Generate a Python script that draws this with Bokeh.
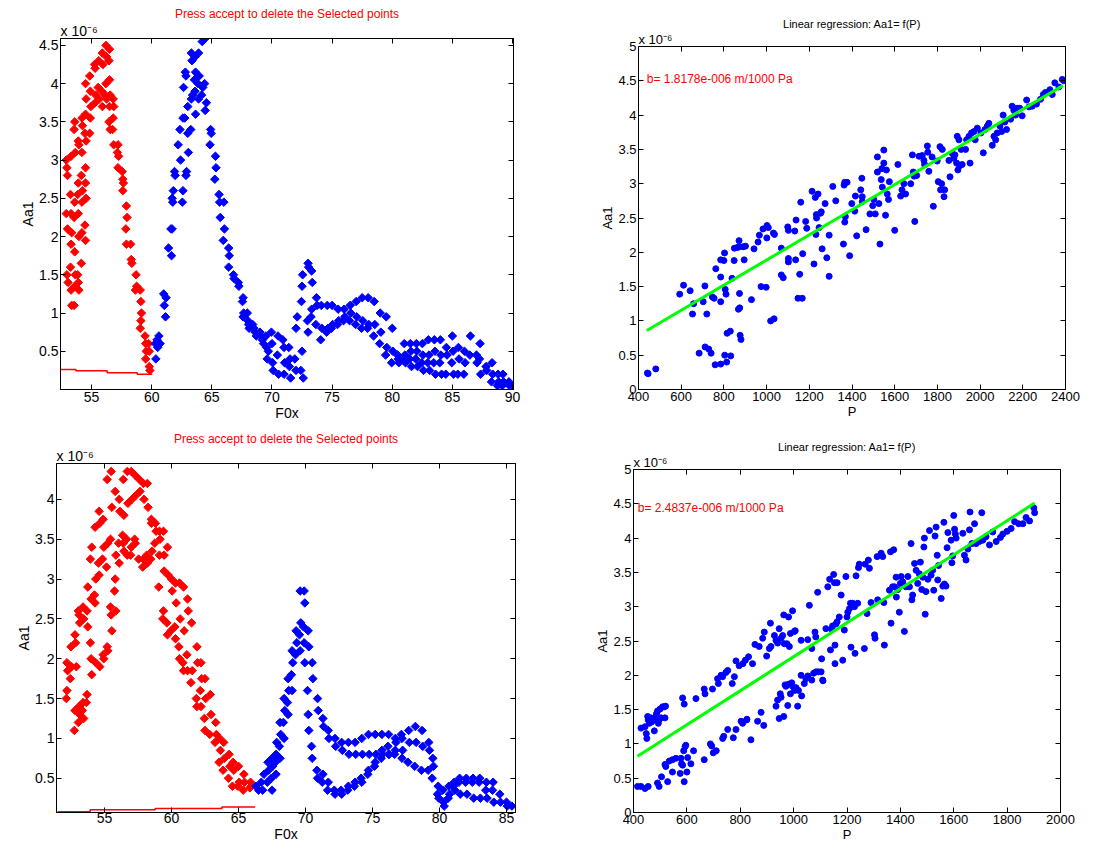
from bokeh.plotting import figure
from bokeh.models import Range1d, FixedTicker, LinearAxis, Label, Title, CustomJSTickFormatter
from bokeh.layouts import column, row
from bokeh.embed import file_html
from bokeh.resources import INLINE

FONT = "Liberation Sans"

# ---------------- data (Aa1 in units of 1e-6) ----------------
tl_red = [
    (52.9,3.0),(52.95,2.9),(53.0,2.8),(52.9,2.3),(53.0,2.1),(52.95,1.5),(53.05,1.4),
    (53.3,3.05),(53.25,2.55),(53.3,2.3),(53.35,2.05),(53.3,1.9),(53.25,1.6),(53.3,1.3),(53.35,1.1),
    (53.6,3.5),(53.55,3.4),(53.65,3.1),(53.6,2.45),(53.55,2.25),(53.6,1.8),(53.65,1.5),(53.6,1.35),(53.55,1.1),
    (53.9,3.25),(53.95,3.2),(53.9,2.7),(53.85,2.55),(53.9,2.3),(53.95,2.0),(53.85,1.5),(53.9,1.4),(53.95,1.3),
    (54.2,3.55),(54.25,3.45),(54.2,3.1),(54.15,2.8),(54.25,2.6),(54.2,2.45),(54.2,2.05),(54.15,1.65),
    (54.5,4.0),(54.55,3.8),(54.5,3.6),(54.45,3.35),(54.55,3.25),(54.5,2.9),(54.5,2.7),(54.55,2.5),(54.45,2.15),(54.5,1.95),
    (54.85,4.1),(54.9,3.9),(54.95,3.7),(54.9,3.55),(54.85,3.35),
    (55.25,4.25),(55.3,4.2),(55.35,3.85),(55.3,3.75),
    (55.6,4.3),(55.65,3.8),(55.55,3.95),
    (55.9,4.4),(55.95,4.25),(55.85,3.9),(55.9,3.7),
    (56.2,4.5),(56.25,4.35),(56.2,4.0),(56.15,3.85),(56.25,3.8),
    (56.5,4.45),(56.45,4.3),(56.5,4.05),(56.55,3.85),(56.5,3.7),(56.45,3.5),(56.55,3.4),
    (56.8,3.8),(56.85,3.7),(56.8,3.55),(56.75,3.4),(56.85,3.2),
    (57.2,3.2),(57.15,3.1),(57.25,3.05),(57.2,2.9),
    (57.55,2.85),(57.6,2.75),(57.65,2.7),(57.6,2.6),
    (57.9,2.4),(57.95,2.25),(57.85,2.1),(57.9,1.9),
    (58.25,1.9),(58.3,1.7),(58.35,1.65),
    (58.7,1.5),(58.75,1.35),(58.65,1.3),
    (59.05,1.3),(59.1,1.15),(59.15,1.0),(59.1,0.9),(59.05,0.8),
    (59.45,0.7),(59.5,0.6),(59.55,0.5),(59.5,0.4),
    (59.8,0.3),(59.85,0.25),(59.75,0.6),(59.8,0.5),
]
tl_blue = [
    (60.3,0.6),(60.45,0.65),(60.5,0.55),(60.35,0.4),(60.6,0.7),(60.7,0.6),
    (61.0,1.25),(61.05,1.1),(61.2,1.2),(61.15,0.95),
    (61.4,1.85),(61.6,2.1),(61.65,1.75),(61.7,2.5),(61.75,2.45),(61.8,2.6),(61.7,2.1),
    (61.9,2.85),(61.95,2.8),(62.2,3.2),(62.35,3.4),(62.4,3.0),
    (62.6,3.55),(62.65,3.95),(62.6,2.6),(62.55,2.45),
    (62.8,4.15),(62.85,4.1),(62.9,2.85),(62.75,3.55),(62.85,2.8),
    (63.0,3.35),(63.05,3.1),(63.0,3.7),
    (63.3,4.4),(63.35,4.3),(63.3,3.8),(63.25,3.4),(63.4,3.85),
    (63.6,4.35),(63.65,4.15),(63.55,4.05),(63.6,3.9),(63.65,3.6),
    (63.9,4.4),(63.95,4.1),(63.85,4.0),(63.9,3.8),
    (64.2,4.55),(64.25,3.95),(64.15,3.85),
    (64.5,4.6),(64.55,3.75),(64.45,3.65),(64.4,4.0),
    (64.9,3.4),(64.95,3.35),(64.85,3.2),
    (65.3,3.05),(65.35,2.9),(65.25,2.75),
    (65.6,2.55),(65.65,2.45),(65.7,2.25),
    (66.0,2.45),(66.05,2.1),(65.95,1.95),
    (66.4,1.85),(66.45,1.75),(66.4,1.6),
    (66.8,1.5),(66.85,1.45),(67.2,1.4),(67.25,1.35),
    (67.6,1.2),(67.55,1.15),(67.65,1.0),(67.6,0.95),
    (68.0,0.9),(68.05,0.85),(67.95,1.0),(68.1,0.8),
    (68.5,0.8),(68.6,0.75),(68.4,0.85),(68.7,0.7),
    (69.0,0.75),(69.1,0.7),(69.2,0.65),(69.3,0.6),
    (69.5,0.7),(69.55,0.55),(69.6,0.4),(69.7,0.5),
    (70.0,0.6),(70.05,0.35),(70.1,0.25),(69.95,0.75),
    (70.5,0.7),(70.45,0.45),(70.55,0.2),
    (71.0,0.55),(71.05,0.35),(71.0,0.2),(70.9,0.65),
    (71.5,0.4),(71.45,0.3),(71.55,0.15),(71.4,0.55),
    (72.0,0.8),(72.1,0.95),(72.0,0.25),(71.9,0.4),
    (72.45,1.15),(72.5,1.35),(72.55,1.5),(72.5,0.5),(72.4,0.25),(72.6,0.15),
    (73.0,1.65),(73.05,1.6),(72.95,0.9),(73.0,0.75),
    (73.3,1.55),(73.35,1.4),(73.3,1.05),(73.25,0.95),
    (73.7,1.2),(73.75,1.1),(73.65,0.85),
    (74.1,1.1),(74.15,0.8),(74.05,0.65),
    (74.6,1.1),(74.55,0.75),(74.65,0.8),
    (75.0,1.1),(75.05,0.85),(74.95,0.8),
    (75.5,1.05),(75.55,0.9),(75.45,0.85),
    (76.0,1.05),(76.05,0.95),(75.95,0.9),
    (76.5,1.1),(76.55,1.0),(76.45,0.9),
    (77.0,1.15),(77.05,0.95),(76.95,0.85),
    (77.5,1.2),(77.55,0.9),(77.45,0.8),
    (78.0,1.2),(78.05,0.85),(77.95,0.8),
    (78.5,1.15),(78.55,0.85),(78.45,0.7),
    (79.0,1.0),(79.05,0.75),(78.95,0.6),
    (79.5,0.95),(79.55,0.55),(79.45,0.45),
    (80.0,0.8),(80.05,0.5),(79.95,0.35),
    (80.5,0.4),(80.55,0.35),(80.45,0.45),
    (81.0,0.6),(81.05,0.45),(80.95,0.4),(81.1,0.35),
    (81.5,0.6),(81.55,0.5),(81.45,0.4),(81.6,0.3),
    (82.0,0.6),(82.05,0.5),(81.95,0.4),(82.1,0.3),
    (82.5,0.6),(82.55,0.45),(82.45,0.35),(82.6,0.25),
    (83.0,0.65),(83.05,0.45),(82.95,0.35),(83.1,0.25),
    (83.5,0.65),(83.55,0.5),(83.45,0.35),(83.6,0.2),
    (84.0,0.65),(84.05,0.45),(83.95,0.35),(84.1,0.2),
    (84.5,0.55),(84.55,0.45),(84.45,0.2),
    (85.0,0.7),(85.05,0.5),(84.95,0.35),(85.1,0.2),
    (85.5,0.55),(85.55,0.4),(85.45,0.2),
    (86.0,0.5),(86.05,0.35),(85.95,0.2),
    (86.5,0.7),(86.45,0.45),
    (87.0,0.45),(87.05,0.35),
    (87.3,0.6),(87.35,0.2),(87.25,0.4),
    (87.8,0.3),(87.85,0.25),
    (88.3,0.35),(88.35,0.2),(88.25,0.1),
    (88.8,0.2),(88.85,0.1),(88.75,0.05),
    (89.2,0.2),(89.25,0.1),(89.15,0.05),
    (89.7,0.1),(89.75,0.05),(90.05,0.05),
]
tl_line_x = [52.45, 53.7, 53.7, 56.3, 56.3, 58.8, 58.8, 60.05]
tl_line_y = [0.26, 0.26, 0.245, 0.245, 0.22, 0.22, 0.20, 0.20]

tr_pts = [
    (442,0.24),(445,0.23),(481,0.30),(593,1.39),(611,1.52),(642,1.44),(653,1.1),(658,1.25),
    (684,0.53),(703,1.28),(711,1.51),(712,0.62),(720,1.1),(729,0.59),(740,0.53),(746,1.35),
    (754,1.33),(759,0.36),(762,1.76),(785,1.64),(785,1.89),(785,1.28),(785,0.37),(800,1.88),
    (803,1.99),(804,0.5),(806,1.46),(810,1.39),(815,0.82),(813,0.4),(830,0.85),(832,0.49),
    (838,1.62),(848,1.88),(849,2.06),(863,2.07),(871,2.17),(871,2.08),(873,1.4),(868,1.17),
    (874,1.19),(876,0.79),(880,0.73),(890,2.08),(895,1.89),(901,2.09),(929,1.31),(941,2.05),
    (960,2.15),(966,2.25),(974,1.5),(983,2.34),(998,1.49),(1001,2.21),(1002,2.39),(1008,2.36),
    (1019,1.0),(1032,2.28),(1035,1.03),(1037,2.26),(1069,2.06),(1069,1.67),(1078,1.63),
    (1099,2.37),(1102,2.32),(1102,1.91),(1102,1.86),(1132,2.31),(1138,2.47),(1136,1.89),
    (1147,1.33),(1155,1.68),(1160,2.73),(1167,1.33),(1169,1.98),(1183,2.45),(1188,2.35),
    (1213,2.89),(1222,1.83),(1228,2.8),(1231,2.26),(1233,2.55),(1234,2.5),(1241,2.85),
    (1246,2.36),(1253,2.57),(1256,2.59),(1260,2.05),(1274,2.71),(1282,1.92),(1293,2.25),
    (1293,1.65),(1310,2.96),(1324,2.75),(1360,2.12),(1363,2.98),(1366,3.02),(1377,3.02),
    (1366,2.44),(1369,2.52),(1389,1.95),(1399,2.71),(1413,2.6),(1416,2.82),(1422,2.24),
    (1441,2.91),(1446,3.08),(1448,2.81),(1448,2.74),(1466,2.33),(1484,2.56),(1497,2.68),
    (1502,2.77),(1509,2.56),(1519,3.39),(1519,3.17),(1526,2.71),(1531,2.12),(1537,3.06),
    (1540,3.22),(1542,2.95),(1549,3.49),(1549,3.3),(1557,2.54),(1561,3.2),(1565,2.85),
    (1571,2.77),(1575,3.03),(1600,2.32),(1615,3.28),(1628,2.82),(1634,2.91),(1643,3.0),
    (1651,2.85),(1675,3.0),(1683,3.42),(1687,3.17),(1691,3.11),(1694,2.45),(1703,3.12),
    (1714,3.4),(1729,3.41),(1737,3.34),(1740,3.28),(1753,3.55),(1755,3.46),(1760,3.18),
    (1775,3.39),(1781,2.67),(1799,3.33),(1804,3.03),(1812,3.54),(1815,2.91),(1820,3.0),
    (1823,3.5),(1831,2.81),(1834,2.91),(1854,3.34),(1859,3.1),(1870,3.44),(1877,3.37),
    (1882,3.42),(1890,3.3),(1893,3.69),(1896,3.2),(1901,3.64),(1904,3.26),(1911,3.5),
    (1916,3.28),(1932,3.5),(1937,3.64),(1948,3.69),(1953,3.3),(1960,3.74),(1971,3.76),
    (1977,3.64),(1987,3.81),(2004,3.74),(2015,3.45),(2023,3.79),(2034,3.84),(2041,3.88),
    (2057,3.56),(2065,3.69),(2073,3.64),(2080,3.74),(2093,3.84),(2101,3.76),(2108,4.0),
    (2116,3.9),(2124,3.79),(2143,3.94),(2150,4.13),(2158,4.07),(2166,4.0),(2174,4.1),
    (2186,4.1),(2197,3.99),(2218,4.22),(2229,4.12),(2244,4.13),(2264,4.16),(2283,4.23),
    (2296,4.3),(2306,4.33),(2327,4.37),(2338,4.3),(2350,4.47),(2369,4.41),(2385,4.52),(2392,4.5),
]
tr_fit_x = [439, 2388]
tr_fit_y = [0.86, 4.43]

bl_red = [
    (52.2,1.95),(52.25,1.85),(52.2,1.6),(52.15,1.5),
    (52.5,2.15),(52.55,1.9),(52.45,1.75),
    (52.8,2.3),(52.85,2.2),(52.8,1.35),(52.75,1.1),(52.9,1.9),
    (53.1,2.55),(53.15,2.45),(53.05,2.6),(53.1,1.4),(53.15,1.3),(53.05,1.2),
    (53.4,2.65),(53.45,2.5),(53.4,1.45),(53.35,1.35),(53.45,1.25),
    (53.7,2.6),(53.75,2.9),(53.7,1.55),(53.65,1.45),(53.75,2.4),
    (54.0,2.75),(54.05,3.4),(53.95,3.25),(54.0,2.0),(54.05,1.8),(53.95,2.2),
    (54.3,3.65),(54.35,3.0),(54.25,2.8),(54.3,2.7),(54.35,1.95),
    (54.6,3.85),(54.65,3.7),(54.55,3.2),(54.6,3.05),(54.65,1.9),
    (54.9,3.75),(54.95,3.4),(54.85,3.25),(54.9,2.05),(54.95,2.0),
    (55.2,4.25),(55.25,3.45),(55.15,3.15),(55.2,2.15),(55.25,2.1),
    (55.5,4.35),(55.55,3.9),(55.45,3.5),(55.5,2.55),(55.55,2.35),(55.45,2.65),
    (55.8,4.1),(55.85,3.3),(55.75,2.85),(55.8,3.0),(55.85,2.6),
    (56.1,4.0),(56.15,3.85),(56.05,3.45),(56.1,3.2),
    (56.4,4.25),(56.45,3.8),(56.35,3.55),(56.4,3.45),(56.45,3.35),
    (56.7,4.35),(56.75,3.95),(56.65,3.5),(56.7,3.3),
    (57.0,4.35),(57.05,4.0),(56.95,3.3),(57.0,3.4),
    (57.3,4.3),(57.35,4.05),(57.25,3.5),(57.3,3.45),
    (57.6,4.25),(57.65,4.1),(57.55,3.25),
    (57.9,4.2),(57.95,4.0),(57.85,3.15),(57.9,3.25),
    (58.2,4.2),(58.25,3.9),(58.15,3.3),(58.2,3.2),
    (58.5,3.75),(58.55,3.35),(58.45,3.25),(58.5,3.7),
    (58.8,3.7),(58.85,3.6),(58.75,3.45),
    (59.1,3.6),(59.15,3.5),(59.05,2.9),(59.1,3.3),
    (59.4,3.6),(59.45,3.3),(59.35,2.5),(59.4,2.6),(59.45,3.1),
    (59.7,3.4),(59.75,3.05),(59.65,2.45),(59.7,2.3),
    (60.0,3.0),(60.05,2.85),(59.95,2.35),
    (60.3,2.95),(60.35,2.7),(60.25,2.4),(60.3,2.25),
    (60.6,2.95),(60.65,2.5),(60.55,2.15),(60.6,2.0),
    (60.9,2.9),(60.95,2.35),(60.85,1.95),(60.9,1.85),
    (61.2,2.75),(61.25,2.6),(61.15,2.05),(61.2,1.85),
    (61.5,2.45),(61.55,1.85),(61.45,1.7),
    (61.9,2.15),(61.95,1.95),(61.85,1.5),(61.9,1.4),
    (62.2,1.95),(62.25,1.75),(62.15,1.6),(62.2,1.4),
    (62.5,1.75),(62.55,1.5),(62.45,1.25),(62.5,1.1),
    (62.9,1.55),(62.95,1.3),(62.85,1.05),
    (63.3,1.2),(63.35,1.05),(63.25,0.95),
    (63.6,1.0),(63.65,0.85),(63.55,0.7),
    (63.9,0.95),(63.95,0.75),(63.85,0.6),
    (64.3,0.8),(64.35,0.65),(64.25,0.5),
    (64.6,0.7),(64.65,0.6),(64.55,0.4),
    (65.0,0.65),(65.05,0.45),(64.95,0.4),
    (65.4,0.55),(65.45,0.45),(65.35,0.35),
    (65.9,0.45),(65.95,0.4),(65.85,0.38),
]
bl_blue = [
    (66.3,0.4),(66.5,0.35),(66.7,0.45),(66.9,0.55),(66.8,0.35),
    (67.2,0.7),(67.25,0.6),(67.15,0.45),
    (67.5,0.75),(67.55,0.65),(67.45,0.5),(67.5,0.35),
    (67.8,0.8),(67.85,0.95),(67.75,0.7),(67.8,0.55),
    (68.1,1.2),(68.15,1.05),(68.05,0.9),(68.1,0.75),
    (68.4,1.5),(68.45,1.35),(68.35,1.2),(68.4,1.0),
    (68.7,1.75),(68.75,1.6),(68.65,1.45),(68.7,1.3),
    (69.0,2.1),(69.05,1.95),(68.95,1.8),(69.0,1.6),
    (69.3,2.35),(69.35,2.2),(69.25,2.05),
    (69.6,2.85),(69.65,2.45),(69.55,2.3),(69.6,2.1),
    (69.9,2.85),(69.95,2.7),(69.85,2.4),(69.9,2.2),(69.95,1.95),
    (70.2,2.35),(70.25,2.15),(70.15,1.6),(70.2,1.3),(70.25,1.1),
    (70.5,1.95),(70.55,1.75),(70.45,0.9),(70.5,0.75),
    (70.9,1.5),(70.95,1.35),(70.85,0.6),(70.9,0.5),
    (71.3,1.25),(71.35,1.15),(71.25,0.45),(71.3,0.55),
    (71.7,1.1),(71.75,1.0),(71.65,0.35),(71.7,0.45),
    (72.2,1.0),(72.25,0.9),(72.15,0.35),(72.2,0.3),
    (72.7,0.95),(72.75,0.85),(72.65,0.35),(72.7,0.3),
    (73.2,0.95),(73.25,0.8),(73.15,0.35),(73.2,0.4),
    (73.7,0.95),(73.75,0.8),(73.65,0.4),(73.7,0.45),
    (74.2,1.0),(74.25,0.8),(74.15,0.5),(74.2,0.45),
    (74.7,1.05),(74.75,0.8),(74.65,0.55),(74.7,0.6),
    (75.2,1.05),(75.25,0.8),(75.15,0.65),(75.2,0.7),
    (75.7,1.05),(75.75,0.8),(75.65,0.75),(75.7,0.85),
    (76.2,1.05),(76.25,0.8),(76.15,0.9),(76.2,0.8),
    (76.7,1.0),(76.75,0.95),(76.65,0.8),(76.7,0.85),
    (77.2,1.0),(77.25,0.85),(77.15,1.05),(77.2,0.75),
    (77.7,1.1),(77.75,0.95),(77.65,0.7),
    (78.2,1.15),(78.25,0.95),(78.15,0.65),
    (78.7,1.1),(78.75,0.9),(78.65,0.6),
    (79.2,0.95),(79.25,0.85),(79.15,0.6),
    (79.5,0.75),(79.55,0.65),(79.45,0.5),
    (79.9,0.4),(79.95,0.25),(79.85,0.3),
    (80.3,0.2),(80.35,0.15),(80.25,0.35),
    (80.7,0.4),(80.75,0.3),(80.65,0.25),
    (81.1,0.45),(81.15,0.35),(81.05,0.4),
    (81.5,0.5),(81.55,0.3),(81.45,0.45),
    (82.0,0.5),(82.05,0.3),(81.95,0.45),
    (82.5,0.5),(82.55,0.25),(82.45,0.45),
    (83.0,0.5),(83.05,0.25),(82.95,0.45),
    (83.5,0.45),(83.55,0.25),(83.45,0.35),
    (84.0,0.45),(84.05,0.2),(83.95,0.35),
    (84.5,0.3),(84.55,0.2),
    (85.0,0.2),(85.05,0.15),(85.4,0.15),
]
bl_line_x = [51.5, 53.93, 53.93, 58.78, 58.78, 63.76, 63.76, 66.24]
bl_line_y = [0.08, 0.08, 0.105, 0.105, 0.12, 0.12, 0.14, 0.14]

br_pts = [
    (415,0.38),(428,0.38),(443,0.35),(455,0.38),
    (428,1.23),(443,1.25),(448,1.15),(450,1.08),(453,1.4),(455,1.35),(459,1.3),(465,1.38),
    (468,1.32),(473,1.35),(478,1.19),(483,1.39),(486,1.44),(490,1.48),(493,1.3),(496,1.35),
    (500,1.51),(503,1.38),(509,1.54),(515,1.54),(518,1.38),(520,1.55),
    (490,0.43),(496,0.38),(505,0.52),(518,0.7),(521,0.67),(528,0.45),(534,0.75),(546,0.77),
    (546,0.59),(559,0.79),(578,0.79),(575,0.57),(580,0.71),(584,0.69),(590,0.45),(588,0.9),
    (593,0.96),(596,0.98),(600,0.59),(603,0.8),(615,0.71),(625,0.9),(665,0.77),(688,1.0),
    (693,0.97),(699,0.87),(710,0.9),(734,1.08),(738,1.11),(753,1.21),(774,1.09),(784,1.21),
    (803,1.33),(809,1.3),(824,1.35),(825,1.36),(840,1.06),(865,1.33),(878,1.46),(888,1.27),
    (934,1.55),(940,1.64),(946,1.37),(950,1.73),(953,1.68),(963,1.4),(968,1.86),(971,1.84),
    (978,1.56),(981,1.87),(988,1.73),(993,1.89),(996,1.84),(1003,1.78),(1009,1.82),(1015,1.55),
    (1018,1.78),(1028,2.0),(1030,1.7),(1040,1.88),(1046,1.95),(1053,1.99),(1068,1.93),
    (1075,2.03),(1084,2.05),(1093,2.05),(1103,2.05),(1110,1.92),
    (584,1.67),(590,1.58),(634,1.66),(665,1.8),(668,1.73),(696,1.8),(715,1.95),(718,1.88),
    (728,2.0),(734,1.98),(746,2.04),(753,2.07),(770,1.88),(778,1.98),(784,2.21),(796,2.14),
    (810,2.17),(819,2.22),(831,2.27),(846,2.17),(855,2.45),(871,2.42),(884,2.54),(890,2.63),
    (899,2.28),(909,2.39),(915,2.42),(913,2.76),(928,2.58),(934,2.51),(940,2.47),(946,2.68),
    (953,2.54),(959,2.58),(963,2.88),(965,2.46),(975,2.46),(981,2.85),(984,2.42),(988,2.61),
    (996,2.94),(1003,2.64),(1006,2.65),(1028,2.51),(1053,2.52),(1059,3.02),(1068,2.39),
    (1080,2.63),(1083,2.56),(1090,3.21),(1105,2.24),(1109,1.93),(1121,2.68),(1128,3.29),
    (1135,3.4),(1138,2.37),(1143,2.67),(1146,2.72),(1150,3.47),(1153,3.35),(1155,2.44),
    (1155,2.17),(1159,2.75),(1163,2.78),(1163,3.35),(1171,2.85),(1178,3.17),(1184,2.22),
    (1190,2.66),(1196,3.44),(1200,2.85),(1203,2.92),(1209,2.97),(1213,3.05),(1215,2.41),
    (1221,3.05),(1228,3.0),(1230,2.32),(1234,3.45),(1240,3.05),(1243,3.57),(1246,3.62),
    (1265,2.39),(1268,3.62),(1275,2.9),(1280,3.68),(1284,3.56),(1290,3.06),(1303,2.59),
    (1305,2.54),(1313,3.73),(1315,3.1),(1328,3.78),(1334,3.73),(1340,2.44),(1338,3.06),
    (1359,3.24),(1363,3.8),(1365,2.76),(1371,3.29),(1375,3.83),(1378,3.29),(1384,3.43),
    (1385,3.14),(1390,3.25),(1396,2.92),(1400,3.34),(1403,3.44),(1409,3.36),(1415,2.64),
    (1421,3.29),(1428,3.44),(1434,3.29),(1440,3.92),(1443,3.1),(1446,3.17),(1453,3.63),
    (1459,3.53),(1465,3.34),(1471,3.48),(1475,3.65),(1480,3.25),(1484,3.43),(1488,3.87),
    (1490,4.0),(1493,2.89),(1496,3.22),(1503,3.4),(1509,4.11),(1515,3.46),(1521,3.53),
    (1525,3.24),(1530,4.03),(1534,4.16),(1538,3.75),(1540,3.39),(1543,3.6),(1553,3.12),
    (1559,3.3),(1563,4.23),(1565,3.33),(1571,3.3),(1575,3.86),(1578,4.08),(1590,3.97),
    (1593,3.64),(1596,3.74),(1600,4.33),(1603,4.13),(1606,4.06),(1609,4.0),(1634,4.07),
    (1640,3.75),(1646,3.68),(1653,3.84),(1659,4.12),(1661,4.38),(1668,3.92),(1678,4.21),
    (1684,3.92),(1696,3.95),(1705,4.37),(1709,3.97),(1721,4.02),(1734,3.9),(1746,4.09),
    (1759,3.95),(1775,4.01),(1784,4.06),(1800,4.1),(1815,4.14),(1828,4.24),(1843,4.21),
    (1859,4.21),(1871,4.3),(1884,4.25),(1900,4.44),(1903,4.37),
]
br_fit_x = [415, 1903]
br_fit_y = [0.82, 4.51]

panel_title = "Press accept to delete the Selected points"
reg_title = "Linear regression: Aa1= f(P)"
scale_text = "x 10\u207b\u2076"
b_top = "b= 1.8178e-006 m/1000 Pa"
b_bottom = "b= 2.4837e-006 m/1000 Pa"

RED = "#ff0000"
BLUE = "#0000ff"
GREEN = "#00ff00"

TOP = 52  # fixed top border (room for the two title lines)


def unzip(pts):
    return [p[0] for p in pts], [p[1] for p in pts]


def make_fig(geo, xr, yr, xt, yt, tick_fs, label_fs, xlabel, ylabel,
             title, title_fs, title_color, scale_fs, top_shift=0, x_standoff=2):
    w, h, bl, br, bb = geo
    p = figure(width=w, height=h, x_range=Range1d(*xr), y_range=Range1d(*yr),
               output_backend="svg", toolbar_location=None,
               min_border_left=bl, min_border_right=br,
               min_border_top=TOP, min_border_bottom=bb,
               margin=(-top_shift, 0, 0, 0))
    p.title.text = title
    p.title.align = "center"
    p.title.text_font = FONT
    p.title.text_font_size = f"{title_fs}px"
    p.title.text_font_style = "normal"
    p.title.text_color = title_color
    p.title.standoff = 0
    p.xgrid.visible = False
    p.ygrid.visible = False
    p.outline_line_color = "black"
    p.outline_line_width = 1
    p.background_fill_color = "white"
    p.border_fill_color = None
    fmt = CustomJSTickFormatter(code="return String(Math.round(tick*1000)/1000);")
    for ax, ticks, lab, so in ((p.xaxis[0], xt, xlabel, x_standoff), (p.yaxis[0], yt, ylabel, 2)):
        ax.ticker = FixedTicker(ticks=ticks)
        ax.formatter = fmt
        ax.major_tick_in = 5
        ax.major_tick_out = 0
        ax.minor_tick_line_color = None
        ax.axis_line_color = "black"
        ax.major_tick_line_color = "black"
        ax.major_label_text_font = FONT
        ax.major_label_text_font_size = f"{tick_fs}px"
        ax.major_label_text_color = "black"
        ax.major_label_standoff = so
        ax.axis_label = lab
        ax.axis_label_text_font = FONT
        ax.axis_label_text_font_size = f"{label_fs}px"
        ax.axis_label_text_font_style = "normal"
        ax.axis_label_text_color = "black"
        ax.axis_label_standoff = 0
    blank = CustomJSTickFormatter(code="return '';")
    top = LinearAxis(ticker=FixedTicker(ticks=xt), formatter=blank,
                     major_label_text_font_size="0px", major_label_text_color=None,
                     major_tick_in=5, major_tick_out=0, minor_tick_line_color=None,
                     major_label_standoff=0, axis_line_color="black")
    p.add_layout(top, "above")
    right = LinearAxis(ticker=FixedTicker(ticks=yt), formatter=blank,
                       major_label_text_font_size="0px", major_label_text_color=None,
                       major_tick_in=5, major_tick_out=0, minor_tick_line_color=None,
                       major_label_standoff=0, axis_line_color="black")
    p.add_layout(right, "right")
    # "x 10^-6" multiplier just above the frame, left aligned
    p.add_layout(Title(text=scale_text, align="left", text_font=FONT,
                       text_font_size=f"{scale_fs}px", text_font_style="normal",
                       text_color="black", standoff=0), "above")
    return p


def add_text(p, x, y, text, size, color):
    p.add_layout(Label(x=x, y=y, text=text, text_font=FONT, text_font_size=f"{size}px",
                       text_color=color, text_align="left", text_baseline="middle"))


# ---------- panel 1: top-left (frame top at page y=38) ----------
p1 = make_fig((580, 444, 60, 67, 41), (52.42, 90.08), (0.0, 4.59),
              [55, 60, 65, 70, 75, 80, 85, 90], [0.5, 1, 1.5, 2, 2.5, 3, 3.5, 4, 4.5],
              14, 14, "F0x", "Aa1", panel_title, 12, RED, 14, top_shift=14)
x, y = unzip(tl_red)
p1.scatter(x, y, marker="square", angle=0.785, size=6, color=RED)
x, y = unzip(tl_blue)
p1.scatter(x, y, marker="square", angle=0.785, size=6, color=BLUE)
p1.line(tl_line_x, tl_line_y, color=RED, line_width=1.5)

# ---------- panel 2: top-right (frame top at page y=46) ----------
p2 = make_fig((512, 436, 58, 27, 40), (400, 2400), (0, 5),
              list(range(400, 2401, 200)), [0, 0.5, 1, 1.5, 2, 2.5, 3, 3.5, 4, 4.5, 5],
              13, 13, "P", "Aa1", reg_title, 11, "black", 13, top_shift=6)
x, y = unzip(tr_pts)
p2.scatter(x, y, marker="circle", size=6, color=BLUE)
p2.line(tr_fit_x, tr_fit_y, color=GREEN, line_width=3)
add_text(p2, 439, 4.52, b_top, 12, RED)

# ---------- panel 3: bottom-left (frame top at page y=463) ----------
p3 = make_fig((580, 444, 56, 65, 40), (51.42, 85.67), (0.07, 4.45),
              [55, 60, 65, 70, 75, 80, 85], [0.5, 1, 1.5, 2, 2.5, 3, 3.5, 4],
              14, 14, "F0x", "Aa1", panel_title, 12, RED, 14, top_shift=19, x_standoff=0)
x, y = unzip(bl_red)
p3.scatter(x, y, marker="square", angle=0.785, size=6, color=RED)
x, y = unzip(bl_blue)
p3.scatter(x, y, marker="square", angle=0.785, size=6, color=BLUE)
p3.line(bl_line_x, bl_line_y, color=RED, line_width=1.5)

# ---------- panel 4: bottom-right (frame top at page y=469) ----------
p4 = make_fig((512, 438, 53, 32, 43), (400, 2000), (0, 5),
              list(range(400, 2001, 200)), [0, 0.5, 1, 1.5, 2, 2.5, 3, 3.5, 4, 4.5, 5],
              13, 13, "P", "Aa1", reg_title, 11, "black", 13, top_shift=13)
x, y = unzip(br_pts)
p4.scatter(x, y, marker="circle", size=6, color=BLUE)
p4.line(br_fit_x, br_fit_y, color=GREEN, line_width=3)
add_text(p4, 416, 4.44, b_bottom, 12, RED)

layout = column(row(p1, p2), row(p3, p4))
open("out.html", "w").write(file_html(layout, INLINE))
